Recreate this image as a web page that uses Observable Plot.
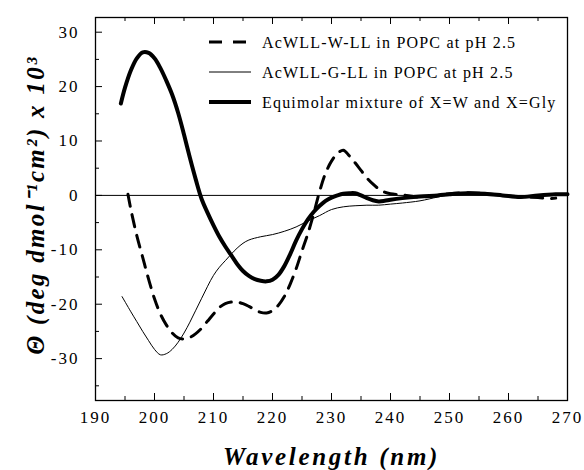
<!DOCTYPE html>
<html><head><meta charset="utf-8">
<script src="https://cdn.jsdelivr.net/npm/d3@7"></script>
<script src="https://cdn.jsdelivr.net/npm/@observablehq/plot@0.6"></script>
<style>body{margin:0;background:#fff}</style>
</head><body><div id="chart"></div>
<script>
// Wavelength (nm) and ellipticity (x 10^3)
const wW = [195.5,196,197,198,199,200,201,202,203,204,205,206,207,208,209,210,211,212,213,214,215,216,217,218,219,220,221,222,223,224,225,226,227,228,229,230,231,232,233,234,235,236,237,238,239,240,242,245,248,250,253,256,259,262,265,267,268];
const vW = [0.2,-2.6,-7.4,-11.4,-15.4,-19.0,-21.8,-23.8,-25.3,-26.2,-26.4,-26.1,-25.4,-24.4,-23.1,-21.8,-20.6,-19.9,-19.6,-19.6,-19.9,-20.4,-21.0,-21.5,-21.6,-21.2,-20.2,-18.6,-16.3,-13.5,-10.2,-7.0,-3.3,0.8,4.1,6.3,7.7,8.3,7.3,6.0,4.6,3.2,2.1,1.2,0.6,0.3,0.1,-0.3,0,0.3,0.5,0.3,0,-0.3,-0.4,-0.6,-0.5];

const wG = [194.5,196,197,198,199,200,201,202,203,204,205,206,207,208,209,210,211,212,213,214,215,216,218,220,222,224,226,228,230,232,234,236,238,240,242,245,248,250,253,256,259,262,265,268,270];
const vG = [-18.6,-21.4,-23.2,-25.0,-26.7,-28.3,-29.3,-29.1,-28.3,-27.0,-25.3,-23.3,-21.1,-18.9,-16.7,-14.7,-13.2,-12.0,-10.8,-9.7,-8.8,-8.2,-7.6,-7.2,-6.6,-5.8,-4.7,-3.7,-2.6,-2.1,-1.9,-1.8,-1.8,-1.6,-1.4,-1.0,-0.3,0.1,0.4,0.3,0,-0.2,0,0.3,0.2];

const wM = [194.3,195,196,197,198,199,200,201,202,203,204,205,206,207,208,209,210,211,212,213,214,215,216,217,218,219,220,221,222,223,224,225,226,227,228,229,230,231,232,233,234,235,236,237,238,239,240,242,245,248,250,253,256,259,262,265,268,270];
const vM = [16.9,19.8,23.0,25.2,26.3,26.2,25.2,23.4,21.1,18.5,15.2,11.2,6.9,2.9,-0.7,-3.2,-5.5,-7.6,-9.4,-11.0,-12.6,-13.9,-14.8,-15.4,-15.7,-15.8,-15.5,-14.6,-13.0,-10.8,-8.3,-6.2,-4.4,-3.0,-1.9,-1.0,-0.4,0,0.3,0.4,0.4,0,-0.5,-0.9,-1.1,-1.0,-0.8,-0.5,-0.2,0,0.2,0.4,0.3,0,-0.3,0,0.2,0.2];

const seriesNames = ["AcWLL-W-LL in POPC at pH 2.5","AcWLL-G-LL in POPC at pH 2.5","Equimolar mixture of X=W and X=Gly"];
const xMajor = [190,200,210,220,230,240,250,260,270];
const xMinor = [195,205,215,225,235,245,255,265];
const yMajor = [-30,-20,-10,0,10,20,30];
const yMinor = [-35,-25,-15,-5,5,15,25];
const xTitle = "Wavelength (nm)";
const yTitle = "\u0398 (deg dmol\u207B\u00B9cm\u00B2) x 10\u00B3";

const toRows = (w, v) => w.map((d, i) => ({w: d, v: v[i]}));
const rowsW = toRows(wW, vW), rowsG = toRows(wG, vG), rowsM = toRows(wM, vM);

const W = 584, H = 470, mL = 95, mR = 17, mT = 17, mB = 70;
const fw = W - mL - mR, fh = H - mT - mB;
const serif = "Liberation Serif";

const chart = Plot.plot({
  width: W, height: H,
  marginLeft: mL, marginRight: mR, marginTop: mT, marginBottom: mB,
  x: {domain: [190, 270]},
  y: {domain: [-37.7, 32.7]},
  style: {fontFamily: serif, fontSize: "17px", letterSpacing: "2px", background: "#fff", color: "#000"},
  marks: [
    Plot.ruleY([0], {stroke: "#000", strokeWidth: 1}),
    Plot.line(rowsG, {x: "w", y: "v", stroke: "#000", strokeWidth: 1, curve: "catmull-rom"}),
    Plot.line(rowsW, {x: "w", y: "v", stroke: "#000", strokeWidth: 3, strokeDasharray: "12,9", curve: "catmull-rom"}),
    Plot.line(rowsM, {x: "w", y: "v", stroke: "#000", strokeWidth: 4, curve: "catmull-rom"}),
    Plot.frame({stroke: "#000", strokeWidth: 1.3}),
    Plot.tickX(xMajor, {x: d => d, insetTop: fh - 7, stroke: "#000"}),
    Plot.tickX(xMinor, {x: d => d, insetTop: fh - 4, stroke: "#000"}),
    Plot.tickX(xMajor, {x: d => d, insetBottom: fh - 7, stroke: "#000"}),
    Plot.tickX(xMinor, {x: d => d, insetBottom: fh - 4, stroke: "#000"}),
    Plot.tickY(yMajor, {y: d => d, insetRight: fw - 7, stroke: "#000"}),
    Plot.tickY(yMinor, {y: d => d, insetRight: fw - 4, stroke: "#000"}),
    Plot.axisX(xMajor, {anchor: "bottom", tickSize: 0, tickPadding: 10, fontSize: 17, tickFormat: d => String(d), label: null}),
    Plot.axisY(yMajor, {anchor: "left", tickSize: 0, tickPadding: 16, fontSize: 17, tickFormat: d => String(d), label: null}),
    Plot.text([xTitle], {frameAnchor: "bottom", dy: 56, fontFamily: serif, fontSize: 25, fontWeight: "bold", fontStyle: "italic", textAnchor: "middle", lineAnchor: "middle"}),
    Plot.text([yTitle], {frameAnchor: "left", dx: -60, dy: -4, rotate: -90, fontFamily: serif, fontSize: 25, fontWeight: "bold", fontStyle: "italic", textAnchor: "middle", lineAnchor: "middle"})
  ]
});

const svg = d3.select(chart);
svg.selectAll("text").each(function() {
  const t = this.textContent;
  if (t === xTitle) this.style.letterSpacing = "2.7px";
  else if (t === yTitle) this.style.letterSpacing = "2.3px";
});

// legend inside the frame
const lg = svg.append("g").attr("aria-label", "legend").attr("text-anchor", "start");
const styles = [
  {w: 3, dash: "13,11"},
  {w: 1, dash: null},
  {w: 4, dash: null}
];
seriesNames.forEach((name, i) => {
  const y = mT + 25 + i * 30;
  const ln = lg.append("line")
    .attr("x1", mL + 114).attr("x2", mL + 156)
    .attr("y1", y).attr("y2", y)
    .attr("stroke", "#000").attr("stroke-width", styles[i].w);
  if (styles[i].dash) ln.attr("stroke-dasharray", styles[i].dash);
  lg.append("text")
    .attr("x", mL + 167).attr("y", y).attr("dy", "0.35em")
    .attr("text-anchor", "start")
    .attr("font-size", 16).style("letter-spacing", "1.2px")
    .attr("fill", "#000")
    .text(name);
});

document.getElementById("chart").appendChild(chart);
</script>
</body></html>
